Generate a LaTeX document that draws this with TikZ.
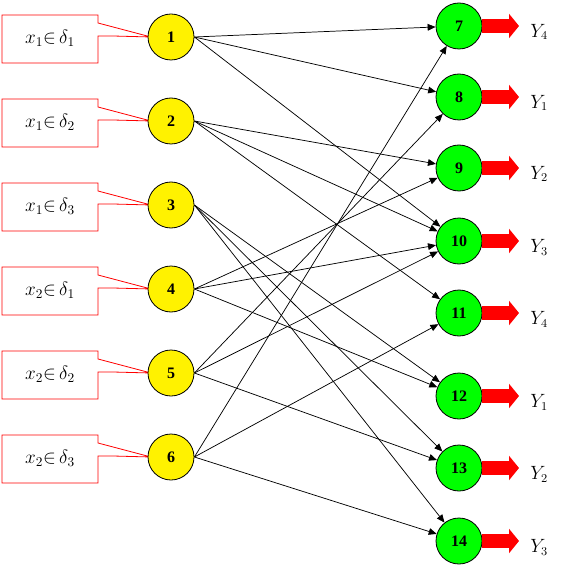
\documentclass[tikz,border=0pt]{standalone}
\usepackage{fontspec}
\setmainfont{Liberation Serif}
\usetikzlibrary{arrows.meta}
\begin{document}
\begin{tikzpicture}[x=0.75pt,y=-0.75pt,
 inp/.style={circle,draw=black,line width=0.6pt,fill=yellow,minimum size=34.5pt,inner sep=0pt,font=\fontsize{12}{14}\selectfont\bfseries},
 outp/.style={inp,fill=green},
 link/.style={line width=0.55pt,-{Triangle[length=6pt,width=5pt]}},
 outarrow/.style={red,line width=10pt,-{Triangle[length=7.5pt,width=18pt]}},
 callout/.style={red,line width=0.6pt,fill=white},
 boxtext/.style={font=\fontsize{14.5}{16}\selectfont},
 ylab/.style={font=\fontsize{13.5}{15}\selectfont,anchor=west,inner sep=0pt}
]
\useasboundingbox (0,0) rectangle (569,570);
% callouts
\foreach \i/\y/\t in {1/37/{{x_1}{\in}\,{\delta_1}},2/121/{{x_1}{\in}\,{\delta_2}},3/205/{{x_1}{\in}\,{\delta_3}},4/289/{{x_2}{\in}\,{\delta_1}},5/373/{{x_2}{\in}\,{\delta_2}},6/457/{{x_2}{\in}\,{\delta_3}}}{
  \draw[callout] (2,\y-22) -- (98,\y-22) -- (98,\y-14) -- (151,\y) -- (113,\y-1) -- (98,\y-1) -- (98,\y+26) -- (2,\y+26) -- cycle;
  \node[boxtext] (t\i) at (50,\y+1) {$\t$};
}
% input neurons
\foreach \i/\y in {1/37,2/121,3/205,4/289,5/373,6/457}
  \node[inp] (n\i) at (171,\y) {\i};
% output neurons
\foreach \i/\y/\k in {7/26/4,8/97/1,9/168/2,10/241/3,11/313/4,12/396/1,13/468/2,14/541/3}{
  \node[outp] (n\i) at (459,\y) {\i};
  \coordinate (e\i) at (519,\y);
  \draw[outarrow] (n\i.east) -- (e\i);
  \node[ylab] (y\i) at (530,\y+6) {$Y_{\k}$};
}
% links
\foreach \a/\b in {1/7,1/8,1/10,2/9,2/10,2/11,3/12,3/13,3/14,4/9,4/10,4/12,5/8,5/10,5/13,6/7,6/11,6/14}
  \draw[link] (n\a.east) -- (n\b);
\end{tikzpicture}
\end{document}
